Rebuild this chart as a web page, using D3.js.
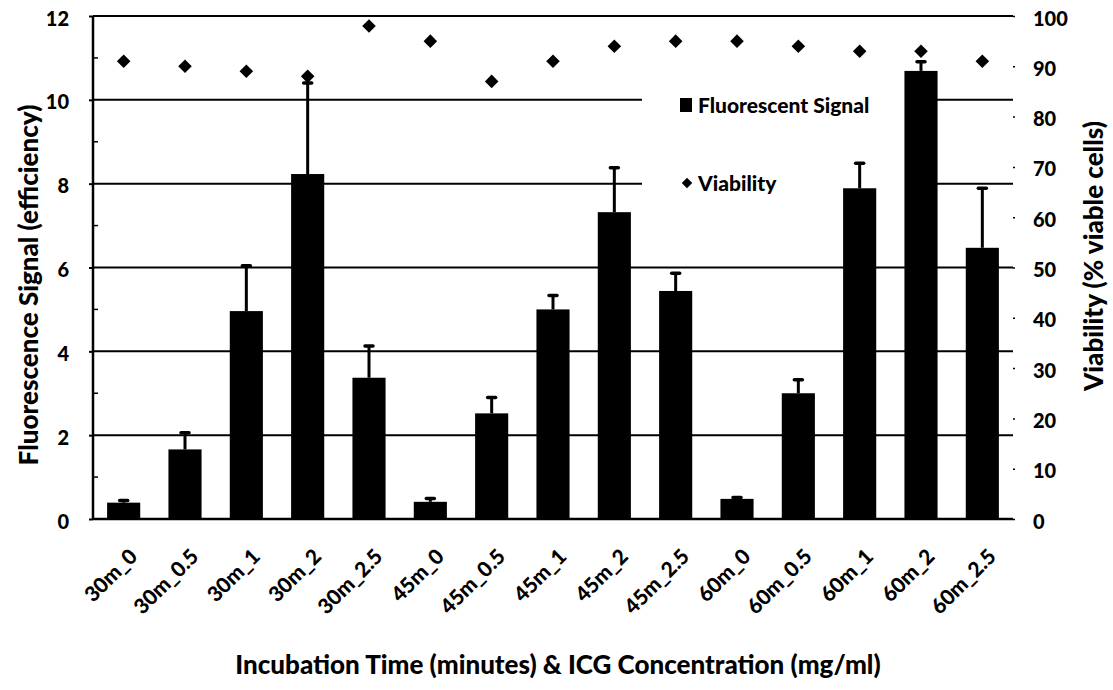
<!DOCTYPE html>
<html><head><meta charset="utf-8">
<script src="https://cdn.jsdelivr.net/npm/d3@7"></script>
<style>
html,body{margin:0;padding:0;background:#fff;}
svg text{font-family:Lato,"Open Sans",sans-serif;font-weight:900;fill:#000;}
</style></head>
<body><svg id="c" width="1113" height="690"></svg>
<script>
const categories = ["30m_0","30m_0.5","30m_1","30m_2","30m_2.5","45m_0","45m_0.5","45m_1","45m_2","45m_2.5","60m_0","60m_0.5","60m_1","60m_2","60m_2.5"];
const signal = [0.39,1.66,4.96,8.23,3.37,0.41,2.52,5.0,7.32,5.44,0.48,3.0,7.89,10.69,6.47];
const signalErr = [0.05,0.40,1.08,2.17,0.76,0.08,0.38,0.33,1.06,0.42,0.03,0.32,0.6,0.22,1.42];
const viability = [91,90,89,88,98,95,87,91,94,95,95,94,93,93,91];
const leftTicks = [0,2,4,6,8,10,12];
const rightTicks = [0,10,20,30,40,50,60,70,80,90,100];

const svg = d3.select("#c");
const L = 93, R = 1013, T = 16, B = 519;
const x = d3.scaleBand().domain(categories).range([L, R]).paddingInner(0.46).paddingOuter(0.23);
const xc = d3.scaleBand().domain(categories).range([L, R]);
const y = d3.scaleLinear().domain([0, 12]).range([B, T]);
const y2 = d3.scaleLinear().domain([0, 100]).range([B, T]);
const cx = d => xc(d) + xc.bandwidth() / 2;

// gridlines
svg.append("g").selectAll("line").data(leftTicks.filter(d => d > 0)).join("line")
  .attr("x1", L).attr("x2", R).attr("y1", d => y(d)).attr("y2", d => y(d))
  .attr("stroke", "#000").attr("stroke-width", 2);

// legend box (white background, covers gridlines)
const lg = svg.append("g");
lg.append("rect").attr("x", 642).attr("y", 32).attr("width", 268).attr("height", 200).attr("fill", "#fff");
lg.append("rect").attr("x", 680).attr("y", 98).attr("width", 12).attr("height", 14).attr("fill", "#000");
lg.append("text").attr("x", 698).attr("y", 113).attr("font-size", 21).text("Fluorescent Signal");
lg.append("path").attr("d", d3.symbol(d3.symbolSquare, 55)()).attr("transform", "translate(687,183) rotate(45)").attr("fill", "#000");
lg.append("text").attr("x", 698).attr("y", 191).attr("font-size", 21).text("Viability");

// bars
svg.append("g").selectAll("rect").data(categories).join("rect")
  .attr("x", d => x(d)).attr("width", x.bandwidth())
  .attr("y", (d, i) => y(signal[i])).attr("height", (d, i) => y(0) - y(signal[i]))
  .attr("fill", "#000");

// error bars (upper only)
const eb = svg.append("g").attr("stroke", "#000");
eb.selectAll("line.v").data(categories).join("line").attr("class", "v")
  .attr("x1", cx).attr("x2", cx)
  .attr("y1", (d, i) => y(signal[i])).attr("y2", (d, i) => y(signal[i] + signalErr[i]))
  .attr("stroke-width", 3);
eb.selectAll("line.c").data(categories).join("line").attr("class", "c")
  .attr("x1", d => cx(d) - 4).attr("x2", d => cx(d) + 4)
  .attr("y1", (d, i) => y(signal[i] + signalErr[i])).attr("y2", (d, i) => y(signal[i] + signalErr[i]))
  .attr("stroke-width", 3.5).attr("stroke-linecap", "round");

// viability diamonds
svg.append("g").selectAll("path").data(categories).join("path")
  .attr("d", d3.symbol(d3.symbolSquare, 92)())
  .attr("transform", (d, i) => `translate(${cx(d)},${y2(viability[i])}) rotate(45)`)
  .attr("fill", "#000");

// left axis
const la = svg.append("g").attr("transform", `translate(${L},0)`)
  .call(d3.axisLeft(y).tickValues(leftTicks).tickSize(4).tickPadding(20).tickFormat(d3.format("d")));
la.select(".domain").attr("stroke-width", 2.5).attr("d", `M0,${B}V${T}`);
la.selectAll(".tick line").attr("stroke-width", 2);
la.selectAll(".tick text").attr("font-size", 20).attr("font-family", "Lato").attr("font-weight", 900).attr("dy", "0.45em");
svg.append("g").selectAll("line").data([1,3,5,7,9,11]).join("line")
  .attr("x1", L).attr("x2", L + 5).attr("y1", d => y(d)).attr("y2", d => y(d)).attr("stroke", "#000").attr("stroke-width", 1.5);

// right axis
const ra = svg.append("g").attr("transform", `translate(${R},0)`)
  .call(d3.axisRight(y2).tickValues(rightTicks).tickSize(2).tickPadding(18).tickFormat(d3.format("d")));
ra.select(".domain").remove();
ra.selectAll(".tick line").attr("stroke-width", 1.5);
ra.selectAll(".tick text").attr("font-size", 20).attr("font-family", "Lato").attr("font-weight", 900).attr("dy", "0.45em");

// x axis
svg.append("line").attr("x1", L).attr("x2", R).attr("y1", B).attr("y2", B).attr("stroke", "#000").attr("stroke-width", 2.5);
svg.append("g").selectAll("text").data(categories).join("text")
  .attr("transform", d => `translate(${cx(d) + 6},${B + 30}) rotate(-45)`)
  .attr("text-anchor", "end").attr("font-size", 21).attr("dy", "0.6em").text(d => d);

// titles
svg.append("text").attr("x", 558).attr("y", 674).attr("text-anchor", "middle").attr("font-size", 26)
  .text("Incubation Time (minutes) & ICG Concentration (mg/ml)");
svg.append("text").attr("transform", "translate(38,285) rotate(-90)").attr("text-anchor", "middle").attr("font-size", 26)
  .text("Fluorescence Signal (efficiency)");
svg.append("text").attr("transform", "translate(1103,256) rotate(-90)").attr("text-anchor", "middle").attr("font-size", 26)
  .text("Viability (% viable cells)");
</script></body></html>
